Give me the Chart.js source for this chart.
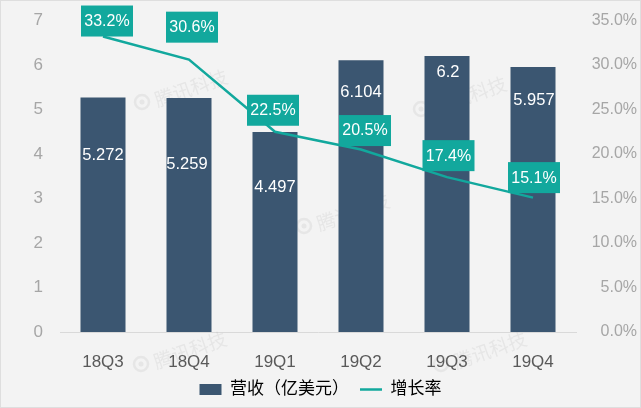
<!DOCTYPE html>
<html><head><meta charset="utf-8">
<style>html,body{margin:0;padding:0;background:#f3f3f3;overflow:hidden}canvas{display:block}</style>
<script src="https://cdn.jsdelivr.net/npm/chart.js@4"></script></head>
<body><canvas id="c" width="641" height="408" style="width:641px;height:408px"></canvas>
<script>
const categories = ['18Q3','18Q4','19Q1','19Q2','19Q3','19Q4'];
const revenue = [5.272,5.259,4.497,6.104,6.2,5.957];
const revenueLabels = ['5.272','5.259','4.497','6.104','6.2','5.957'];
const growth = [33.2,30.6,22.5,20.5,17.4,15.1];
const revenueName = '营收（亿美元）';
const growthName = '增长率';
const watermarkText = '腾讯科技';
const FONT = '"Liberation Sans","Noto Sans CJK SC",sans-serif';
// label placement relative to each mark (pixels)
const barLabelDx = [0,-2,0,0,1,1];
const barLabelY = [155,164,187,92,72,100];
const boxDx = [4,3,-2,4,1.5,1];
const boxBottomDy = [0,-17,-6,-3.5,-6,-4.5];
const marks = [[191,88],[190,350],[490,350],[470,95],[353,212]];

const overlay = {
  id:'overlay',
  afterLayout(ch){ ch.legend.left+=2; ch.legend.right+=2; },
  beforeDatasetsDraw(ch){
    const g=ch.ctx; g.save();
    g.strokeStyle='#dedede'; g.lineWidth=1; g.strokeRect(0.5,0.5,640,407);
    g.font='19px "Noto Sans CJK SC"'; g.fillStyle='rgba(150,150,150,0.13)';
    g.strokeStyle='rgba(150,150,150,0.13)'; g.lineWidth=2.5;
    g.textAlign='center'; g.textBaseline='middle';
    marks.forEach(m=>{
      g.save();g.translate(m[0],m[1]);
      g.beginPath();g.arc(-49,14,7,0,Math.PI*2);g.stroke();
      g.beginPath();g.arc(-49,14,2.5,0,Math.PI*2);g.fill();
      g.rotate(-0.33);g.fillText(watermarkText,0,0);g.restore();
    });
    g.restore();
  },
  afterDatasetsDraw(ch){
    const g=ch.ctx, pts=ch.getDatasetMeta(0).data, bars=ch.getDatasetMeta(1).data;
    g.save(); g.textAlign='center'; g.textBaseline='middle';
    g.font='16.5px '+FONT; g.fillStyle='#ffffff';
    bars.forEach((b,i)=>g.fillText(revenueLabels[i],b.x+barLabelDx[i],barLabelY[i]));
    g.font='16px '+FONT;
    pts.forEach((p,i)=>{
      const w=52,h=31,cx=p.x+boxDx[i],by=p.y+boxBottomDy[i];
      g.fillStyle='#12a89d'; g.fillRect(cx-w/2,by-h,w,h);
      g.fillStyle='#ffffff'; g.fillText(growth[i].toFixed(1)+'%',cx,by-h/2+0.5);
    });
    g.restore();
  }
};
function noOverhang(s){s.paddingTop=0;s.paddingBottom=0;s.paddingLeft=0;s.paddingRight=0;}
new Chart(document.getElementById('c'),{
  data:{labels:categories,datasets:[
    {type:'line',label:growthName,data:growth,yAxisID:'y2',borderColor:'#12a89d',backgroundColor:'#12a89d',borderWidth:2.5,pointRadius:0,tension:0,order:1},
    {type:'bar',label:revenueName,data:revenue,yAxisID:'y',backgroundColor:'#3b5671',borderWidth:0,categoryPercentage:45/86,barPercentage:1,order:2}
  ]},
  options:{
    responsive:false,animation:false,
    layout:{padding:{top:20.5,left:0,right:4,bottom:0}},
    plugins:{
      title:{display:false},tooltip:{enabled:false},
      legend:{position:'bottom',labels:{
        font:{size:17,family:FONT},color:'#595959',usePointStyle:true,pointStyleWidth:22,boxHeight:11,padding:11,
        generateLabels(ch){
          return [
            {text:revenueName,fillStyle:'#3b5671',strokeStyle:'#3b5671',lineWidth:0,pointStyle:'rect',datasetIndex:1},
            {text:growthName,fillStyle:'#12a89d',strokeStyle:'#12a89d',lineWidth:2.5,pointStyle:'line',datasetIndex:0}
          ];
        }
      }}
    },
    scales:{
      x:{grid:{display:false,drawTicks:false},border:{color:'#d9d9d9',width:1},
        ticks:{font:{size:17,family:FONT},color:'#595959',padding:20,maxRotation:0},
        afterFit(s){s.height=38;noOverhang(s);}},
      y:{position:'left',min:0,max:7,grid:{display:false,drawTicks:false},border:{display:false},
        ticks:{stepSize:1,font:{size:17,family:FONT},color:'#a6a6a6',padding:17},
        afterFit(s){s.width=60;noOverhang(s);}},
      y2:{position:'right',min:0,max:35,grid:{display:false,drawTicks:false},border:{display:false},
        ticks:{stepSize:5,font:{size:16,family:FONT},color:'#a6a6a6',padding:0,align:'center',crossAlign:'far',
          callback:v=>v.toFixed(1)+'%'},
        afterFit(s){s.width=61;noOverhang(s);}}
    }
  },
  plugins:[overlay]
});
</script></body></html>
